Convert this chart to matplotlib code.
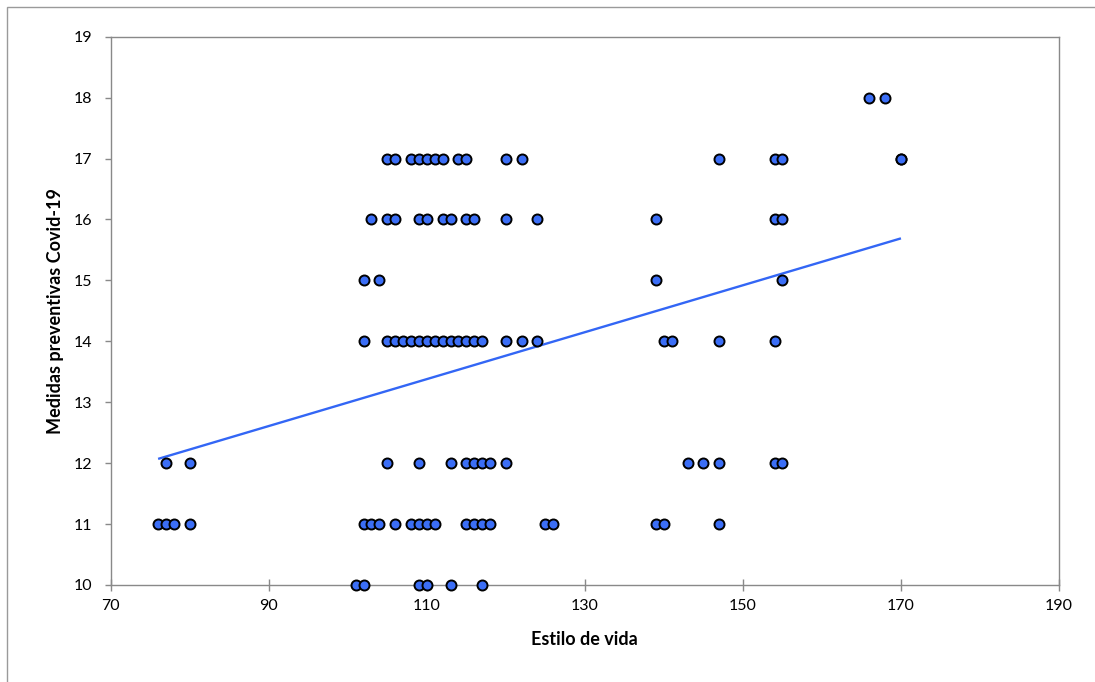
import matplotlib
matplotlib.use("Agg")
import matplotlib.pyplot as plt
from matplotlib.patches import Rectangle

# Estilo de vida values for each level of "Medidas preventivas Covid-19"
estilo_18 = [166, 168]
estilo_17 = [105, 106, 108, 109, 110, 111, 112, 114, 115, 120, 122, 147, 154, 155, 170, 170]
estilo_16 = [103, 105, 106, 109, 110, 112, 113, 115, 116, 120, 124, 139, 154, 155]
estilo_15 = [102, 104, 139, 155]
estilo_14 = [102, 105, 106, 107, 108, 109, 110, 111, 112, 113, 114, 115, 116, 117,
             120, 122, 124, 140, 141, 147, 154]
estilo_12 = [77, 80, 105, 109, 113, 115, 116, 117, 118, 120, 143, 145, 147, 154, 155]
estilo_11 = [76, 77, 78, 80, 102, 103, 104, 106, 108, 109, 110, 111, 115, 116, 117, 118,
             125, 126, 139, 140, 147]
estilo_10 = [101, 102, 109, 110, 113, 117]

levels = {18: estilo_18, 17: estilo_17, 16: estilo_16, 15: estilo_15,
          14: estilo_14, 12: estilo_12, 11: estilo_11, 10: estilo_10}

# linear trend line
trend_x = [76, 170]
trend_y = [12.07, 15.69]

x_ticks = [70, 90, 110, 130, 150, 170, 190]
y_ticks = [10, 11, 12, 13, 14, 15, 16, 17, 18, 19]

xs, ys = [], []
for lvl, vals in levels.items():
    xs.extend(vals)
    ys.extend([lvl] * len(vals))

plt.rcParams['font.family'] = ['Lato', 'DejaVu Sans']

fig = plt.figure(figsize=(10.95, 6.82), dpi=100)
ax = fig.add_axes([110.7 / 1095, 1 - 585 / 682, (1059 - 110.7) / 1095, (585 - 36.7) / 682])

ax.plot(trend_x, trend_y, color='#3366F5', linewidth=1.7, zorder=2, solid_capstyle='butt')
ax.scatter(xs, ys, s=52, color='#3B6EF6', edgecolors='black', linewidths=1.4, zorder=3, clip_on=False)

ax.set_xlim(70, 190)
ax.set_ylim(10, 19)
ax.set_xticks(x_ticks)
ax.set_yticks(y_ticks)

gray = '#898989'
for sp in ax.spines.values():
    sp.set_color(gray)
    sp.set_linewidth(1.0)

ax.tick_params(axis='x', direction='inout', length=8, width=1, color=gray,
               labelsize=11.5, pad=6, labelcolor='black')
ax.tick_params(axis='y', direction='out', length=4.5, width=1, color=gray,
               labelsize=11.5, pad=9, labelcolor='black')

ax.set_xlabel('Estilo de vida', fontsize=13, fontweight='bold', labelpad=13)
ax.set_ylabel('Medidas preventivas Covid-19', fontsize=13, fontweight='bold', labelpad=7)

# outer chart frame (left and top visible)
frame = Rectangle((7 / 1095, -0.5), 2.0, 1.5 - 7 / 682, transform=fig.transFigure,
                  fill=False, edgecolor='#9a9a9a', linewidth=1.0)
fig.add_artist(frame)

fig.savefig('out.png', dpi=100)
